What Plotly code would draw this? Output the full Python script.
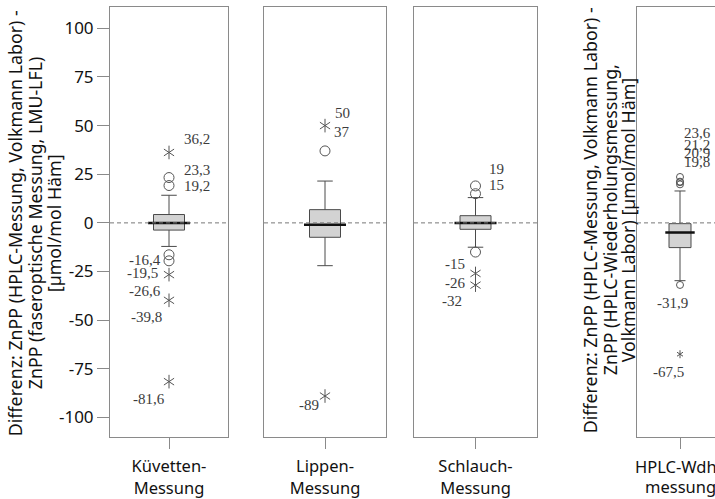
import plotly.graph_objects as go

# ---------------- data ----------------
categories = ["Küvetten-<br>Messung", "Lippen-<br>Messung", "Schlauch-<br>Messung", "HPLC-Wdh.-<br>messung"]
q1 = [-3.7, -7.4, -3.3, -12.7]
median = [0.0, -1.0, 0.0, -5.0]
q3 = [4.3, 6.8, 3.7, -0.4]
lower_whisker = [-12.1, -22.0, -12.5, -29.7]
upper_whisker = [14.2, 21.5, 13.0, 16.4]

kuv_circles = [23.3, 19.2, -16.4, -19.5]
kuv_stars = [36.2, -26.6, -39.8, -81.6]
lip_circles = [37]
lip_stars = [50, -89]
sch_circles = [19, 15, -15]
sch_stars = [-26, -32]
hplc_circles = [23.6, 21.2, 20.9, 19.8, -31.9]
hplc_stars = [-67.5]

y_ticks = [100, 75, 50, 25, 0, -25, -50, -75, -100]

title_left = ["Differenz: ZnPP (HPLC-Messung, Volkmann Labor) -",
              "ZnPP (faseroptische Messung, LMU-LFL)",
              "[µmol/mol Häm]"]
title_right = ["Differenz: ZnPP (HPLC-Messung, Volkmann Labor) -",
               "ZnPP (HPLC-Wiederholungsmessung,",
               "Volkmann Labor) [µmol/mol Häm]"]

circles = [kuv_circles, lip_circles, sch_circles, hplc_circles]
stars = [kuv_stars, lip_stars, sch_stars, hplc_stars]

# ---------------- style / layout ----------------
W, H = 715, 499
SANS = "Noto Sans"
SERIF = "Liberation Serif"
FRAME = "#8a8a8a"
LABEL_C = "#3c3c3c"
MARK_C = "#555555"
panel_px = [(110, 228), (264, 386), (414, 537), (637, 715)]
x_ranges = [(-0.5, 0.5), (-0.5, 0.5), (-0.5, 0.5), (-0.5, 0.407)]
full_w = [118, 122, 123, 86]
y_dom = [(H - 441) / H, (H - 7) / H]
y_range = [-110.3, 111.0]
box_px = [31, 31, 31, 22]
circ_size = [10, 10, 10, 7]
star_size = [8.5, 8.5, 8.5, 5]

circ_lbl = [
    [(13, 8, "left"), (13, 0, "left"), (-6, -5, "right"), (-9, -12, "right")],
    [(7, 19, "left")],
    [(11, 17, "left"), (11, 9, "left"), (-9, -12, "right")],
    [(2, 44, "left"), (2, 37, "left"), (2, 29, "left"), (2, 22, "left"), (-8, -18, "center")],
]
star_lbl = [
    [(13, 13, "left"), (-6, -16, "right"), (-5, -17, "right"), (-2, -17, "right")],
    [(8, 13, "left"), (-4, -9, "right")],
    [(-9, -10, "right"), (-12, -16, "right")],
    [(-12, -18, "center")],
]

def fmt(v):
    return f"{v:g}".replace(".", ",")

fig = go.Figure()
annotations = []
shapes = []

for i in range(4):
    xa = "x" if i == 0 else f"x{i+1}"
    ya = "y" if i == 0 else f"y{i+1}"
    fig.add_trace(go.Box(
        x=[0], q1=[q1[i]], median=[median[i]], q3=[q3[i]],
        lowerfence=[lower_whisker[i]], upperfence=[upper_whisker[i]],
        width=box_px[i] / full_w[i], whiskerwidth=0.5,
        fillcolor="#d3d3d3", line=dict(color="#4a4a4a", width=1),
        boxpoints=False, showlegend=False, hoverinfo="skip",
        xaxis=xa, yaxis=ya))
    fig.add_trace(go.Scatter(
        x=[0], y=[median[i]], mode="markers",
        marker=dict(symbol="line-ew-open", size=box_px[i] - 1, color="#111111",
                    line=dict(color="#111111", width=2.5)),
        showlegend=False, hoverinfo="skip", xaxis=xa, yaxis=ya))
    fig.add_trace(go.Scatter(
        x=[0] * len(circles[i]), y=circles[i], mode="markers",
        marker=dict(symbol="circle-open", size=circ_size[i], color=MARK_C,
                    line=dict(color=MARK_C, width=1)),
        showlegend=False, hoverinfo="skip", xaxis=xa, yaxis=ya))
    for sym in ["y-up-open", "y-down-open"]:
        fig.add_trace(go.Scatter(
            x=[0] * len(stars[i]), y=stars[i], mode="markers",
            marker=dict(symbol=sym, size=star_size[i], color=MARK_C,
                        line=dict(color=MARK_C, width=1)),
            showlegend=False, hoverinfo="skip", xaxis=xa, yaxis=ya))
    for v, (dx, dy, anc) in zip(circles[i], circ_lbl[i]):
        annotations.append(dict(x=0, y=v, xref=xa, yref=ya, text=fmt(v), showarrow=False,
                                xshift=dx, yshift=dy, xanchor=anc, yanchor="middle",
                                font=dict(family=SERIF, size=15, color=LABEL_C)))
    for v, (dx, dy, anc) in zip(stars[i], star_lbl[i]):
        annotations.append(dict(x=0, y=v, xref=xa, yref=ya, text=fmt(v), showarrow=False,
                                xshift=dx, yshift=dy, xanchor=anc, yanchor="middle",
                                font=dict(family=SERIF, size=15, color=LABEL_C)))
    shapes.append(dict(type="line", xref=f"{xa} domain", yref=ya, x0=0, x1=1, y0=0, y1=0,
                       line=dict(color="#777777", width=1, dash="4px,3px"), layer="above"))

    xkey = "xaxis" if i == 0 else f"xaxis{i+1}"
    ykey = "yaxis" if i == 0 else f"yaxis{i+1}"
    fig.update_layout(**{
        xkey: dict(domain=[panel_px[i][0] / W, panel_px[i][1] / W], range=list(x_ranges[i]),
                   anchor=ya, tickvals=[0], ticktext=[categories[i] if i < 3 else ""],
                   ticks="outside", ticklen=11, tickcolor=FRAME, showline=True, mirror=True,
                   linecolor=FRAME, linewidth=1, showgrid=False, zeroline=False,
                   ticklabelstandoff=3,
                   tickfont=dict(family=SANS, size=16.5, color="#111111")),
        ykey: dict(domain=y_dom, range=y_range, anchor=xa,
                   tickvals=y_ticks if i == 0 else [],
                   ticktext=[str(v) for v in y_ticks] if i == 0 else [],
                   ticks="outside" if i == 0 else "",
                   ticklen=12, tickcolor=FRAME, showline=True, mirror=(i < 3),
                   linecolor=FRAME, linewidth=1, showgrid=False, zeroline=False,
                   showticklabels=(i == 0),
                   tickfont=dict(family=SANS, size=17, color="#111111")),
    })

# 4th category label (partly outside the page, as in the reference)
for line, yy in zip(categories[3].split("<br>"), [470, 490]):
    annotations.append(dict(x=0, y=1 - yy / H, xref="x4", yref="paper", text=line,
                            showarrow=False, xanchor="center", yanchor="middle",
                            font=dict(family=SANS, size=16.5, color="#111111")))

for lines, xs, yc in [(title_left, [15, 35, 54], 225), (title_right, [590, 610, 628], 222)]:
    for line, xx in zip(lines, xs):
        annotations.append(dict(x=xx / W, y=1 - yc / H, xref="paper", yref="paper", text=line,
                                textangle=-90, showarrow=False, xanchor="center",
                                yanchor="middle",
                                font=dict(family=SANS, size=17.8, color="#111111")))

fig.update_layout(width=W, height=H, margin=dict(l=0, r=0, t=0, b=0),
                  paper_bgcolor="white", plot_bgcolor="white",
                  annotations=annotations, shapes=shapes, showlegend=False)

fig.write_html("out.html")
